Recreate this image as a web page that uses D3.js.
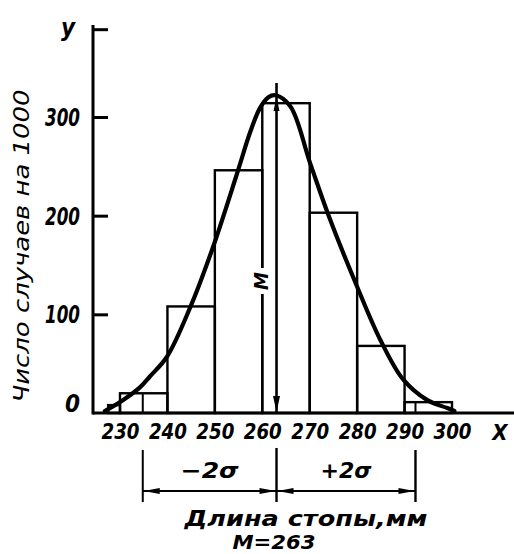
<!DOCTYPE html>
<html><head><meta charset="utf-8">
<script src="https://cdn.jsdelivr.net/npm/d3@7"></script>
<style>
html,body{margin:0;padding:0;background:#fff;}
svg{display:block;}
text{font-family:"DejaVu Sans Condensed","DejaVu Sans",sans-serif;font-style:italic;font-weight:bold;fill:#000;}
</style></head>
<body><svg id="c" width="514" height="554"></svg>
<script>
// ---- data ----
const binStart = [227.5, 230, 240, 250, 260, 270, 280, 290];
const binEnd   = [230, 240, 250, 260, 270, 280, 290, 300];
const freq     = [8, 20, 108, 246, 314, 203, 68, 11];
const xTicks   = [230, 240, 250, 260, 270, 280, 290, 300];
const yTicks   = [100, 200, 300];
const yTickLabels = ["100", "200", "300"];
const yAxisTop = 389;           // small end tick at the top of the y axis
const curveMm  = [226.8, 230.6, 234.2, 236.3, 239.9, 244.8, 249.6, 254.7, 257.4, 259.5, 261.3, 262.7, 265.9, 270.1, 274.3, 280.0, 284.9, 289.7, 294.8, 299.0, 300.5];
const curveVal = [2, 13, 26, 37, 57, 107, 168, 243, 284, 309, 320, 322, 311, 253, 196, 128, 74, 34, 13, 5, 2];
const meanM    = 263;
const minus2s  = 234.8;
const plus2s   = 292.3;
const yTitle = "Число случаев на 1000";
const xTitle = "Длина стопы,мм";
const mLabel = "M=263";

const svg = d3.select("#c");
svg.append("rect").attr("width",514).attr("height",554).attr("fill","#fff");

const x = d3.scaleLinear().domain([230,300]).range([120,452]);
const y = d3.scaleLinear().domain([0,300]).range([413,117]);
const x0 = 93, yBase = y(0);

function fit(sel, w){ sel.attr("textLength", w).attr("lengthAdjust","spacingAndGlyphs"); return sel; }

// bars
const bars = binStart.map((s,i)=>({s, e:binEnd[i], v:freq[i]}));
svg.append("g").selectAll("rect").data(bars).join("rect")
  .attr("x", d=>x(d.s)).attr("width", d=>x(d.e)-x(d.s))
  .attr("y", d=>y(d.v)).attr("height", d=>yBase-y(d.v))
  .attr("fill","none").attr("stroke","#000").attr("stroke-width",2.4);

// ±2σ lines inside histogram (up to bar tops)
function barTopAt(mm){ const b = bars.find(d=>mm>=d.s && mm<d.e); return b? y(b.v): yBase; }
[minus2s, plus2s].forEach(m=>{
  svg.append("line").attr("x1",x(m)).attr("x2",x(m)).attr("y1",barTopAt(m)).attr("y2",yBase)
    .attr("stroke","#000").attr("stroke-width",2);
});

// y axis
const yAxis = d3.axisLeft(y).tickValues(yTicks.concat([yAxisTop]))
  .tickFormat((d,i)=> i<yTickLabels.length ? yTickLabels[i] : "")
  .tickSizeInner(-15).tickSizeOuter(0).tickPadding(13);
const gy = svg.append("g").attr("transform",`translate(${x0},0)`).call(yAxis);
gy.select(".domain").remove();
gy.selectAll(".tick line").attr("stroke","#000").attr("stroke-width",3);
gy.selectAll(".tick text").style("font-size","24px").attr("dy","0.36em").each(function(){ if(this.textContent) fit(d3.select(this),35); });
svg.append("line").attr("x1",x0).attr("x2",x0).attr("y1",25).attr("y2",yBase+1.5)
  .attr("stroke","#000").attr("stroke-width",3);
// zero label
svg.append("text").attr("x",80).attr("y",403).attr("dy","0.36em").attr("text-anchor","end")
  .style("font-size","24px").text("0");

// x axis
const xAxis = d3.axisBottom(x).tickValues(xTicks).tickFormat(d3.format("d")).tickSize(0).tickPadding(10);
const gx = svg.append("g").attr("transform",`translate(0,${yBase})`).call(xAxis);
gx.select(".domain").remove();
gx.selectAll(".tick text").style("font-size","22px").each(function(){ fit(d3.select(this),38); });
svg.append("line").attr("x1",x0).attr("x2",514).attr("y1",yBase).attr("y2",yBase)
  .attr("stroke","#000").attr("stroke-width",3);

svg.append("text").attr("x",500).attr("y",440).attr("text-anchor","middle").style("font-size","22px").text("X");
svg.append("text").attr("x",68).attr("y",36).attr("text-anchor","middle").style("font-size","24px").text("y");

// y title
fit(svg.append("text").attr("transform","translate(29,246) rotate(-90)").attr("text-anchor","middle")
  .style("font-size","21px").style("font-weight","normal").text(yTitle), 313);

// normal curve
const pts = curveMm.map((m,i)=>[x(m), y(curveVal[i])]);
svg.append("path").attr("d", d3.line().curve(d3.curveCatmullRom.alpha(0.5))(pts))
  .attr("fill","none").attr("stroke","#000").attr("stroke-width",4.2).attr("stroke-linecap","round");

// M line
const xm = x(meanM);
svg.append("line").attr("x1",xm).attr("x2",xm).attr("y1",83).attr("y2",yBase)
  .attr("stroke","#000").attr("stroke-width",2.6);
function arrow(tipX, tipY, dir, len, half){ // dir: 'up','down','left','right'
  let p;
  if(dir==="down") p=[[tipX,tipY],[tipX-half,tipY-len],[tipX+half,tipY-len]];
  if(dir==="up") p=[[tipX,tipY],[tipX-half,tipY+len],[tipX+half,tipY+len]];
  if(dir==="left") p=[[tipX,tipY],[tipX+len,tipY-half],[tipX+len,tipY+half]];
  if(dir==="right") p=[[tipX,tipY],[tipX-len,tipY-half],[tipX-len,tipY+half]];
  svg.append("path").attr("d","M"+p.join("L")+"Z").attr("fill","#000");
}
arrow(xm, yBase-1, "down", 16, 3.5);
arrow(xm, 97, "up", 14, 3);

// M label on the 260 edge
const mx = 260, my = 281;
svg.append("rect").attr("x",mx-9).attr("y",my-13).attr("width",18).attr("height",26).attr("fill","#fff");
svg.append("text").attr("transform",`translate(${mx+1},${my}) rotate(-90)`).attr("text-anchor","middle")
  .attr("dy","0.36em").style("font-size","20px").text("M");

// dimension lines for ±2σ
const xl = x(minus2s), xr = x(plus2s);
svg.append("line").attr("x1",xl).attr("x2",xl).attr("y1",450).attr("y2",502).attr("stroke","#000").attr("stroke-width",2);
svg.append("line").attr("x1",xr).attr("x2",xr).attr("y1",450).attr("y2",502).attr("stroke","#000").attr("stroke-width",2.4);
svg.append("line").attr("x1",xm).attr("x2",xm).attr("y1",448).attr("y2",502).attr("stroke","#000").attr("stroke-width",2.4);
svg.append("line").attr("x1",xl).attr("x2",xr).attr("y1",491).attr("y2",491).attr("stroke","#000").attr("stroke-width",2);
arrow(xl+1, 491, "left", 16, 3);
arrow(xm-1, 491, "right", 16, 3);
arrow(xm+1, 491, "left", 16, 3);
arrow(xr-1, 491, "right", 16, 3);

fit(svg.append("text").attr("x",(xl+xm)/2).attr("y",478).attr("text-anchor","middle").style("font-size","22px").text("−2σ"),58);
fit(svg.append("text").attr("x",(xm+xr)/2).attr("y",478).attr("text-anchor","middle").style("font-size","22px").text("+2σ"),51);

fit(svg.append("text").attr("x",306).attr("y",526).attr("text-anchor","middle").style("font-size","22px").text(xTitle),243);
fit(svg.append("text").attr("x",274).attr("y",549).attr("text-anchor","middle").style("font-size","20px").text(mLabel),83);
</script></body></html>
